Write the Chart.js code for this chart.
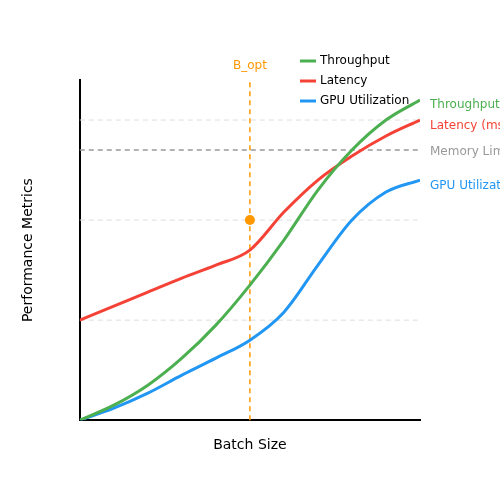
<!DOCTYPE html>
<html>
<head>
<script src="https://cdn.jsdelivr.net/npm/chart.js@4"></script>
<style>body{margin:0;background:#fff}#wrap{width:500px;height:500px}</style>
</head>
<body>
<div id="wrap"><canvas id="c"></canvas></div>
<script>
const batchSizes = [0, 1, 2, 3, 4, 5, 6, 7, 8, 9, 10];
const throughput = [0, 0.15, 0.35, 0.62, 0.95, 1.35, 1.8, 2.3, 2.7, 3.0, 3.2];
const latency = [1.0, 1.14, 1.28, 1.42, 1.55, 1.7, 2.08, 2.4, 2.64, 2.84, 3.0];
const gpuUtil = [0, 0.12, 0.27, 0.45, 0.62, 0.8, 1.08, 1.55, 2.0, 2.28, 2.4];
const gridLevels = [1, 2, 3];
const memoryLimit = 2.7;
const bOpt = 5;
const bOptPoint = 2.0;

const colors = { t: "#4caf50", l: "#f44336", g: "#2196f3", o: "#ff9800" };
const font = "12px 'DejaVu Sans'";

const overlay = {
  id: "overlay",
  beforeDatasetsDraw(chart) {
    const { ctx, scales: { x, y } } = chart;
    ctx.save();
    ctx.setLineDash([5, 4]);
    ctx.lineWidth = 1;
    ctx.strokeStyle = "#dddddd";
    gridLevels.forEach(v => {
      const py = y.getPixelForValue(v);
      ctx.beginPath(); ctx.moveTo(x.left, py); ctx.lineTo(x.right, py); ctx.stroke();
    });
    ctx.strokeStyle = "#999999";
    ctx.lineWidth = 1.5;
    const my = y.getPixelForValue(memoryLimit);
    ctx.beginPath(); ctx.moveTo(x.left, my); ctx.lineTo(x.right, my); ctx.stroke();
    ctx.strokeStyle = colors.o;
    const bx = x.getPixelForValue(bOpt);
    ctx.beginPath(); ctx.moveTo(bx, y.bottom); ctx.lineTo(bx, y.top); ctx.stroke();
    ctx.restore();
  },
  afterDraw(chart) {
    const { ctx, scales: { x, y } } = chart;
    ctx.save();
    ctx.font = font;
    ctx.textBaseline = "middle";
    const bx = x.getPixelForValue(bOpt);
    ctx.fillStyle = colors.o;
    ctx.textAlign = "center";
    ctx.fillText("B_opt", bx, 66);
    ctx.beginPath();
    ctx.arc(bx, y.getPixelForValue(bOptPoint), 5, 0, Math.PI * 2);
    ctx.fill();
    ctx.textAlign = "left";
    const lx = x.right + 10;
    ctx.fillStyle = colors.t; ctx.fillText("Throughput", lx, y.getPixelForValue(throughput[10]) + 5);
    ctx.fillStyle = colors.l; ctx.fillText("Latency (ms)", lx, y.getPixelForValue(latency[10]) + 6);
    ctx.fillStyle = "#999999"; ctx.fillText("Memory Limit", lx, y.getPixelForValue(memoryLimit) + 2);
    ctx.fillStyle = colors.g; ctx.fillText("GPU Utilization", lx, y.getPixelForValue(gpuUtil[10]) + 6);
    const items = [["Throughput", colors.t], ["Latency", colors.l], ["GPU Utilization", colors.g]];
    items.forEach(([label, c], i) => {
      const ly = 61 + i * 20;
      ctx.strokeStyle = c; ctx.lineWidth = 3;
      ctx.beginPath(); ctx.moveTo(300, ly); ctx.lineTo(316, ly); ctx.stroke();
      ctx.fillStyle = "#000"; ctx.fillText(label, 320, ly);
    });
    ctx.restore();
  }
};

const mk = (label, data, c) => ({ label, data, borderColor: c, borderWidth: 3, pointRadius: 0, cubicInterpolationMode: "monotone", fill: false });

new Chart(document.getElementById("c"), {
  type: "line",
  data: {
    labels: batchSizes,
    datasets: [mk("Throughput", throughput, colors.t), mk("Latency", latency, colors.l), mk("GPU Utilization", gpuUtil, colors.g)]
  },
  options: {
    responsive: true, maintainAspectRatio: false, animation: false,
    layout: { padding: { top: 80, right: 80, bottom: 42, left: 16 } },
    plugins: { legend: { display: false }, tooltip: { enabled: false } },
    scales: {
      x: { type: "linear", min: 0, max: 10, grid: { display: false, drawTicks: false }, ticks: { display: false },
           border: { color: "#000", width: 2 },
           title: { display: true, text: "Batch Size", color: "#000", font: { family: "DejaVu Sans", size: 14 }, padding: { top: 17 } } },
      y: { min: 0, max: 3.4, grid: { display: false, drawTicks: false }, ticks: { display: false },
           border: { color: "#000", width: 2 },
           title: { display: true, text: "Performance Metrics", color: "#000", font: { family: "DejaVu Sans", size: 14 }, padding: { bottom: 43 } } }
    }
  },
  plugins: [overlay]
});
</script>
</body>
</html>
